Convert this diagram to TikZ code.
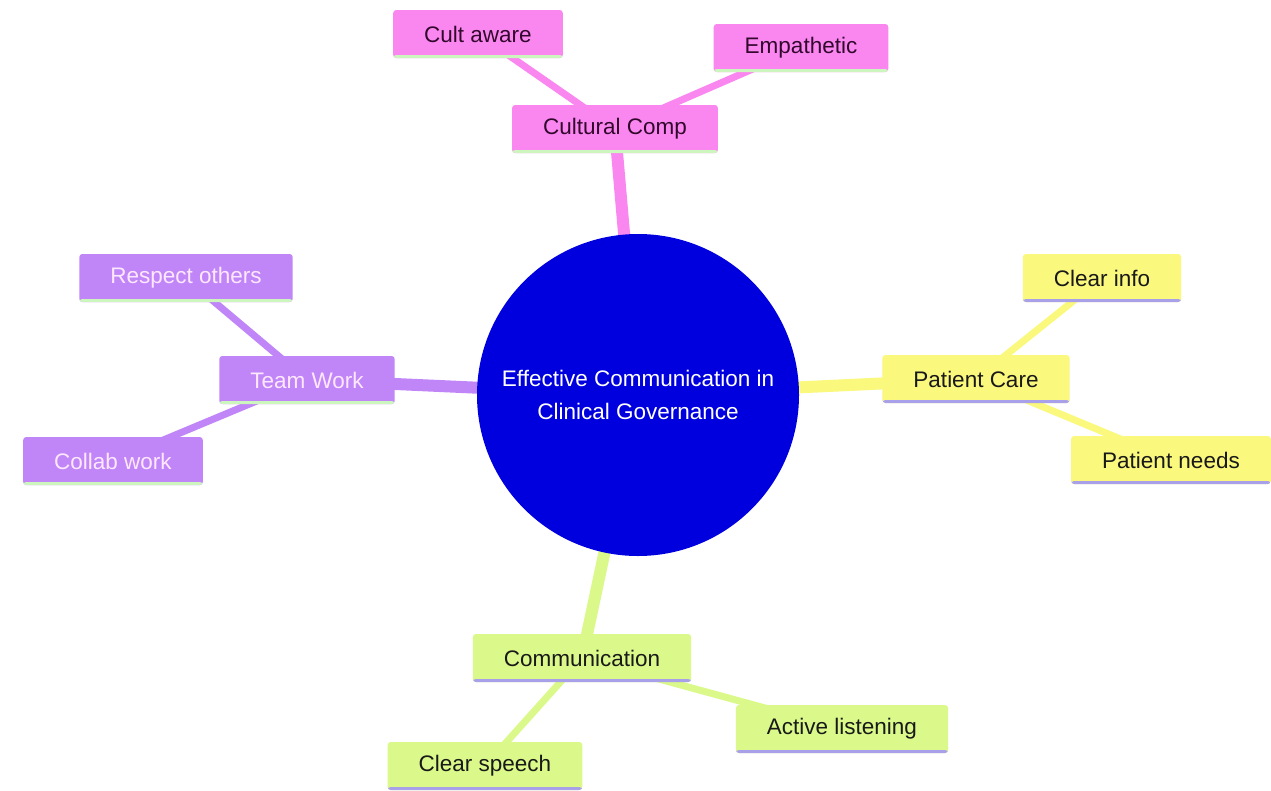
\documentclass[tikz,border=0pt]{standalone}
\usepackage{fontspec}
\setmainfont{Liberation Sans}
\usetikzlibrary{backgrounds}
\definecolor{pinkbox}{RGB}{250,135,240}
\definecolor{pinktxt}{RGB}{50,8,45}
\definecolor{purplebox}{RGB}{192,134,248}
\definecolor{purpletxt}{RGB}{255,232,255}
\definecolor{yellowbox}{RGB}{250,248,125}
\definecolor{greenbox}{RGB}{218,249,138}
\definecolor{darktxt}{RGB}{25,25,25}
\definecolor{lavline}{RGB}{168,160,232}
\definecolor{lgreenline}{RGB}{205,245,190}
\definecolor{centerblue}{RGB}{0,0,222}
\tikzset{
  x=1pt, y=-1pt,
  box/.style={rectangle, rounded corners=3pt, inner xsep=31pt, inner ysep=0pt,
    minimum height=48pt, font=\fontsize{22.5}{27}\selectfont},
  ul/.style={path picture={\fill[#1] ([yshift=3pt]path picture bounding box.south west) rectangle (path picture bounding box.south east);}},
  pinknode/.style={box, fill=pinkbox, text=pinktxt, ul=lgreenline},
  purplenode/.style={box, fill=purplebox, text=purpletxt, ul=lgreenline},
  yellownode/.style={box, fill=yellowbox, text=darktxt, ul=lavline},
  greennode/.style={box, fill=greenbox, text=darktxt, ul=lavline},
  mainedge/.style={line width=12pt, #1},
  childedge/.style={line width=7pt, #1},
}
\begin{document}
\begin{tikzpicture}
\useasboundingbox (0,0) rectangle (1271,790);
\node[circle, fill=centerblue, minimum size=322pt, inner sep=0pt, text=white, align=center,
  font=\fontsize{22.5}{33}\selectfont] (c) at (638,395) {Effective Communication in\\Clinical Governance};

\node[pinknode] (cc) at (615,129) {Cultural Comp};
\node[pinknode] (ca) at (478,34) {Cult aware};
\node[pinknode] (em) at (801,48) {Empathetic};

\node[purplenode] (tw) at (307,380) {Team Work};
\node[purplenode] (ro) at (186,278) {Respect others};
\node[purplenode] (cw) at (113,461) {Collab work};

\node[yellownode] (pc) at (976,379) {Patient Care};
\node[yellownode] (ci) at (1102,278) {Clear info};
\node[yellownode] (pn) at (1171,460) {Patient needs};

\node[greennode] (co) at (582,658) {Communication};
\node[greennode] (al) at (842,729) {Active listening};
\node[greennode] (cs) at (485,766) {Clear speech};

\begin{scope}[on background layer]
\draw[mainedge=pinkbox] (c.center) -- (cc.center);
\draw[childedge=pinkbox] (cc.center) -- (ca.center);
\draw[childedge=pinkbox] (cc.center) -- (em.center);
\draw[mainedge=purplebox] (c.center) -- (tw.center);
\draw[childedge=purplebox] (tw.center) -- (ro.center);
\draw[childedge=purplebox] (tw.center) -- (cw.center);
\draw[mainedge=yellowbox] (c.center) -- (pc.center);
\draw[childedge=yellowbox] (pc.center) -- (ci.center);
\draw[childedge=yellowbox] (pc.center) -- (pn.center);
\draw[mainedge=greenbox] (c.center) -- (co.center);
\draw[childedge=greenbox] (co.center) -- (al.center);
\draw[childedge=greenbox] (co.center) -- (cs.center);
\end{scope}
\end{tikzpicture}
\end{document}
